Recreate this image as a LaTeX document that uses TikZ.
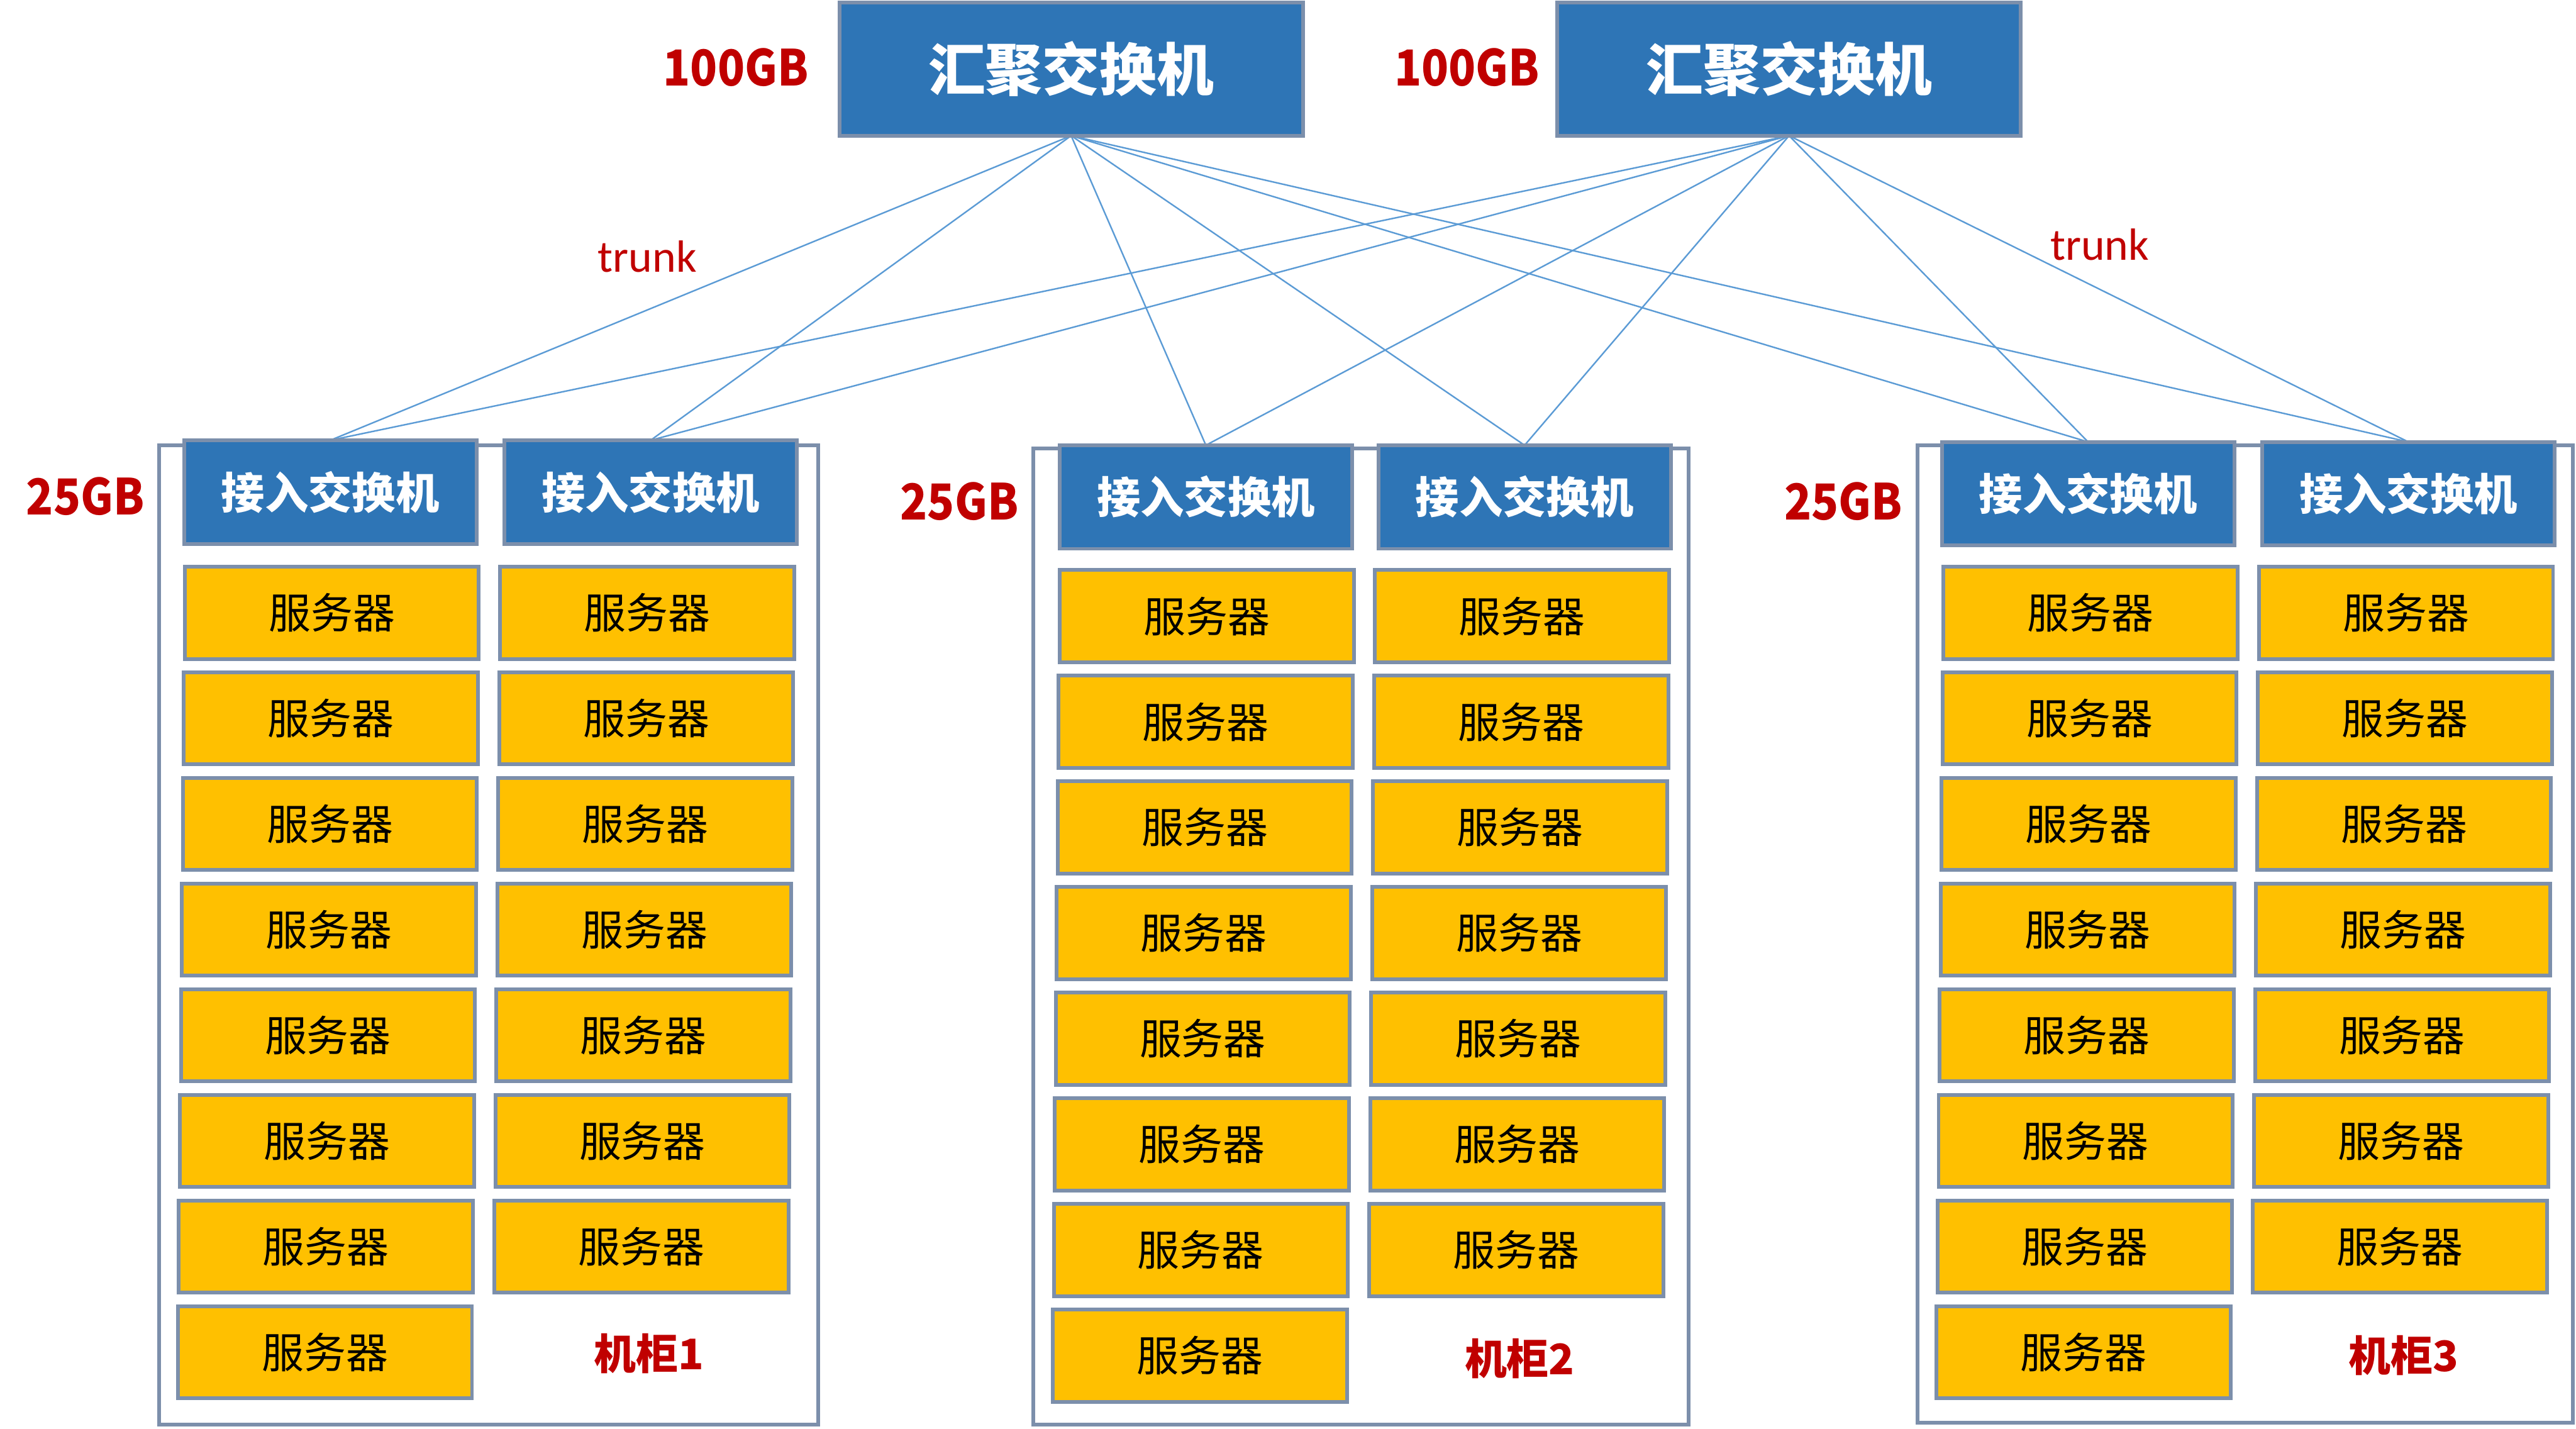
\documentclass[tikz,border=0pt]{standalone}
\usepackage{fontspec}
\setmainfont{Noto Sans CJK SC}
\newfontfamily\latinfont{Carlito}
\pgfdeclarelayer{bg}
\pgfsetlayers{bg,main}
\definecolor{swblue}{HTML}{2E75B6}
\definecolor{edgegrey}{HTML}{7C8FAB}
\definecolor{srvyellow}{HTML}{FFC000}
\definecolor{lblred}{HTML}{C00000}
\definecolor{linkblue}{HTML}{5B9BD5}
\def\u{0.038406cm}
\newcommand{\narrowtxt}[1]{\scalebox{0.9}[1]{#1}}
\tikzset{
  base/.style={draw=edgegrey, line width=2.5pt, inner sep=0pt, outer sep=0pt, anchor=north west},
  core/.style={base, fill=swblue, text=white, font=\bfseries\fontsize{38}{40}\selectfont, minimum width=282*\u, minimum height=81*\u},
  access/.style={base, fill=swblue, text=white, font=\bfseries\fontsize{29}{31}\selectfont, minimum width=178*\u, minimum height=63*\u},
  server/.style={base, fill=srvyellow, text=black, font=\fontsize{28}{30}\selectfont, minimum width=179*\u, minimum height=56*\u},
  cabinet/.style={base},
  rate/.style={text=lblred, font=\bfseries\fontsize{33}{35}\selectfont, inner sep=0pt},
  cablabel/.style={text=lblred, font=\bfseries\fontsize{28}{30}\selectfont, inner sep=0pt},
  trunklbl/.style={text=lblred, font=\latinfont\fontsize{30}{32}\selectfont, inner sep=0pt},
  link/.style={draw=linkblue, line width=1pt},
}
\begin{document}
\begin{tikzpicture}[x=0.038406cm, y=-0.038406cm]
\useasboundingbox (0,0) rectangle (1568,869.4);
\begin{pgfonlayer}{bg}
\fill[white] (0,0) rectangle (1568,869.4);
\end{pgfonlayer}

% cabinets
\node[cabinet, minimum width=401*\u, minimum height=596*\u] (cab1) at (97,271) {};
\node[cabinet, minimum width=399*\u, minimum height=594*\u] (cab2) at (629,273) {};
\node[cabinet, minimum width=399*\u, minimum height=595*\u] (cab3) at (1167,271) {};

% core switches
\node[core] (t1) at (511,1.6) {汇聚交换机};
\node[core] (t2) at (948,1.6) {汇聚交换机};

% access switches
\node[access] (a11) at (112,268) {接入交换机};
\node[access] (a12) at (307,268) {接入交换机};
\node[access] (a21) at (645,271) {接入交换机};
\node[access] (a22) at (839,271) {接入交换机};
\node[access] (a31) at (1182,269) {接入交换机};
\node[access] (a32) at (1377,269) {接入交换机};

% servers
\foreach \c/\xl/\xr/\yt in {1/112.5/304.5/345, 2/645/837/347, 3/1183/1375/345}{
  \foreach \r in {0,...,7}{
    \node[server] (s\c L\r) at ({\xl-0.6*\r},{\yt+64.3*\r}) {服务器};
  }
  \foreach \r in {0,...,6}{
    \node[server] (s\c R\r) at ({\xr-0.6*\r},{\yt+64.3*\r}) {服务器};
  }
}

% labels
\node[rate] (r100a) at (448,41) {\narrowtxt{100GB}};
\node[rate] (r100b) at (893,41) {\narrowtxt{100GB}};
\node[rate] (r25a) at (52,302) {\narrowtxt{25GB}};
\node[rate] (r25b) at (584,305) {\narrowtxt{25GB}};
\node[rate] (r25c) at (1122,305) {\narrowtxt{25GB}};
\node[trunklbl] (tr1) at (394,156) {trunk};
\node[trunklbl] (tr2) at (1278,149) {trunk};
\node[cablabel] (cl1) at (395,824) {机柜1};
\node[cablabel] (cl2) at (925,827) {机柜2};
\node[cablabel] (cl3) at (1463,825) {机柜3};

% links
\begin{pgfonlayer}{bg}
\foreach \t in {t1,t2}{
  \foreach \a in {a11,a12,a21,a22,a31,a32}{
    \draw[link] (\t.south) -- (\a.north);
  }
}
\end{pgfonlayer}
\end{tikzpicture}
\end{document}
